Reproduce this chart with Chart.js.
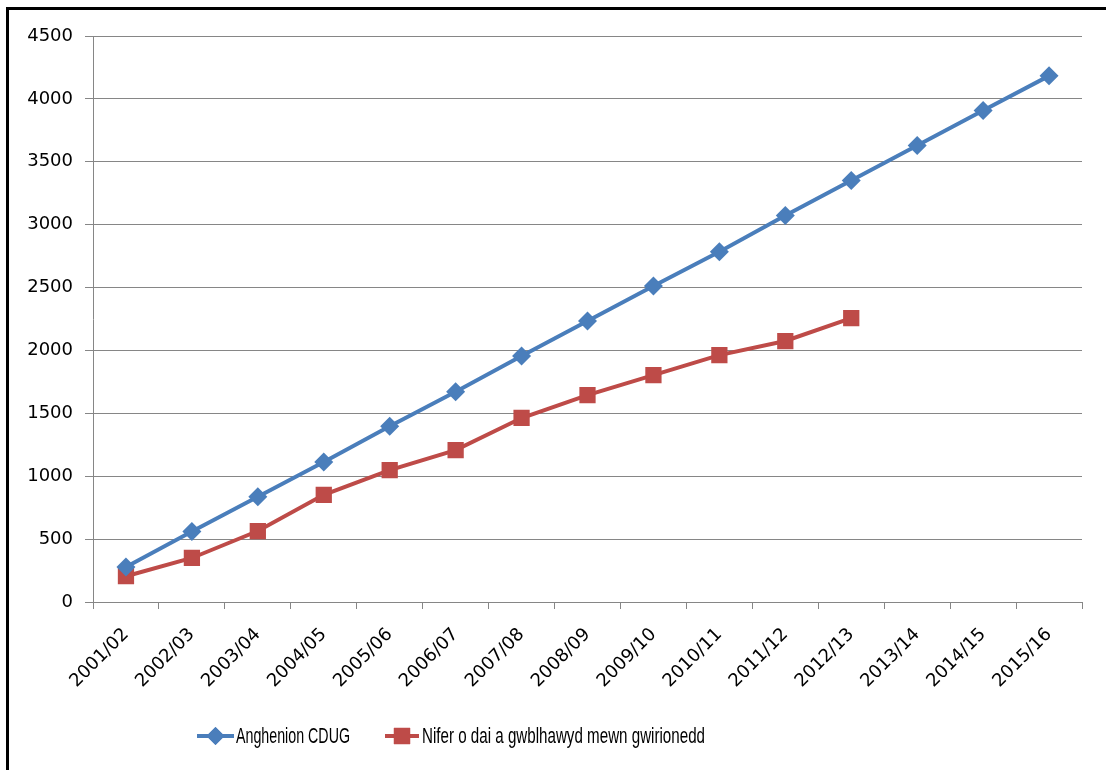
<!DOCTYPE html>
<html>
<head>
<meta charset="utf-8">
<script src="https://cdn.jsdelivr.net/npm/chart.js@4"></script>
<style>
  html, body { margin: 0; padding: 0; background: #fff; }
  #wrap { position: relative; width: 1106px; height: 770px; }
</style>
</head>
<body>
<div id="wrap"><canvas id="c" width="1106" height="770"></canvas></div>
<script>
const categories = ["2001/02","2002/03","2003/04","2004/05","2005/06","2006/07","2007/08","2008/09","2009/10","2010/11","2011/12","2012/13","2013/14","2014/15","2015/16"];
const needLabel = "Anghenion CDUG";
const needValues = [279, 560, 836, 1113, 1397, 1672, 1955, 2234, 2512, 2785, 3072, 3352, 3630, 3908, 4183];
const builtLabel = "Nifer o dai a gwblhawyd mewn gwirionedd";
const builtValues = [205, 350, 564, 852, 1049, 1208, 1463, 1645, 1804, 1963, 2075, 2257];
const yTicks = [0, 500, 1000, 1500, 2000, 2500, 3000, 3500, 4000, 4500];

const BLUE = "#4A7EBB";
const RED = "#BE4B48";
const GRID = "#868686";

const frameAndLegend = {
  id: "frameAndLegend",
  afterDraw(chart) {
    const ctx = chart.ctx;
    ctx.save();
    // outer frame (left and top)
    ctx.strokeStyle = "#000";
    ctx.lineWidth = 3;
    ctx.beginPath();
    ctx.moveTo(7.5, 775);
    ctx.lineTo(7.5, 8.5);
    ctx.lineTo(1110, 8.5);
    ctx.stroke();
    // legend
    const items = [
      { label: needLabel, color: BLUE, style: "rectRot", r: 9, x0: 197, x1: 234, tx: 236, w: 114 },
      { label: builtLabel, color: RED, style: "rect", r: 11.5, x0: 385, x1: 419, tx: 422, w: 283 }
    ];
    const y = 736;
    ctx.font = "22px 'Liberation Sans', sans-serif";
    ctx.textBaseline = "middle";
    ctx.textAlign = "left";
    items.forEach(it => {
      ctx.strokeStyle = it.color;
      ctx.lineWidth = 4;
      ctx.beginPath();
      ctx.moveTo(it.x0, y);
      ctx.lineTo(it.x1, y);
      ctx.stroke();
      ctx.fillStyle = it.color;
      Chart.helpers.drawPoint(ctx, { pointStyle: it.style, radius: it.r, borderWidth: 0 }, (it.x0 + it.x1) / 2, y);
      ctx.fill();
      ctx.fillStyle = "#000";
      const natural = ctx.measureText(it.label).width;
      const sx = it.w / natural;
      ctx.save();
      ctx.translate(it.tx, y + 1);
      ctx.scale(sx, 1);
      ctx.fillText(it.label, 0, 0);
      ctx.restore();
    });
    ctx.restore();
  }
};

new Chart(document.getElementById("c"), {
  type: "line",
  data: {
    labels: categories,
    datasets: [
      {
        label: needLabel,
        data: needValues,
        borderColor: BLUE,
        backgroundColor: BLUE,
        borderWidth: 4,
        pointStyle: "rectRot",
        pointRadius: 9.5,
        pointHoverRadius: 9.5,
        pointBorderWidth: 0,
        tension: 0
      },
      {
        label: builtLabel,
        data: builtValues,
        borderColor: RED,
        backgroundColor: RED,
        borderWidth: 4,
        pointStyle: "rect",
        pointRadius: 11.5,
        pointHoverRadius: 11.5,
        pointBorderWidth: 0,
        tension: 0
      }
    ]
  },
  options: {
    responsive: false,
    animation: false,
    events: [],
    layout: { padding: { left: 0, top: 36, right: 24, bottom: 0 } },
    plugins: {
      legend: { display: false },
      tooltip: { enabled: false },
      title: { display: false }
    },
    scales: {
      x: {
        type: "category",
        offset: true,
        afterFit(scale) { scale.height = 168; },
        grid: {
          offset: true,
          drawOnChartArea: false,
          drawTicks: true,
          tickLength: 7,
          color: GRID,
          lineWidth: 1
        },
        border: { color: GRID, width: 1 },
        ticks: {
          autoSkip: false,
          minRotation: 45,
          maxRotation: 45,
          padding: 15,
          color: "#000",
          font: { family: "'DejaVu Sans', sans-serif", size: 18 }
        }
      },
      y: {
        min: 0,
        max: 4500,
        afterFit(scale) { scale.width = 93; },
        afterBuildTicks(scale) { scale.ticks = yTicks.map(v => ({ value: v })); },
        grid: {
          color: GRID,
          lineWidth: 1,
          drawTicks: true,
          tickLength: 8
        },
        border: { color: GRID, width: 1 },
        ticks: {
          padding: 12,
          color: "#000",
          font: { family: "'DejaVu Sans', sans-serif", size: 18 },
          callback: (v) => String(v)
        }
      }
    }
  },
  plugins: [frameAndLegend]
});
</script>
</body>
</html>
